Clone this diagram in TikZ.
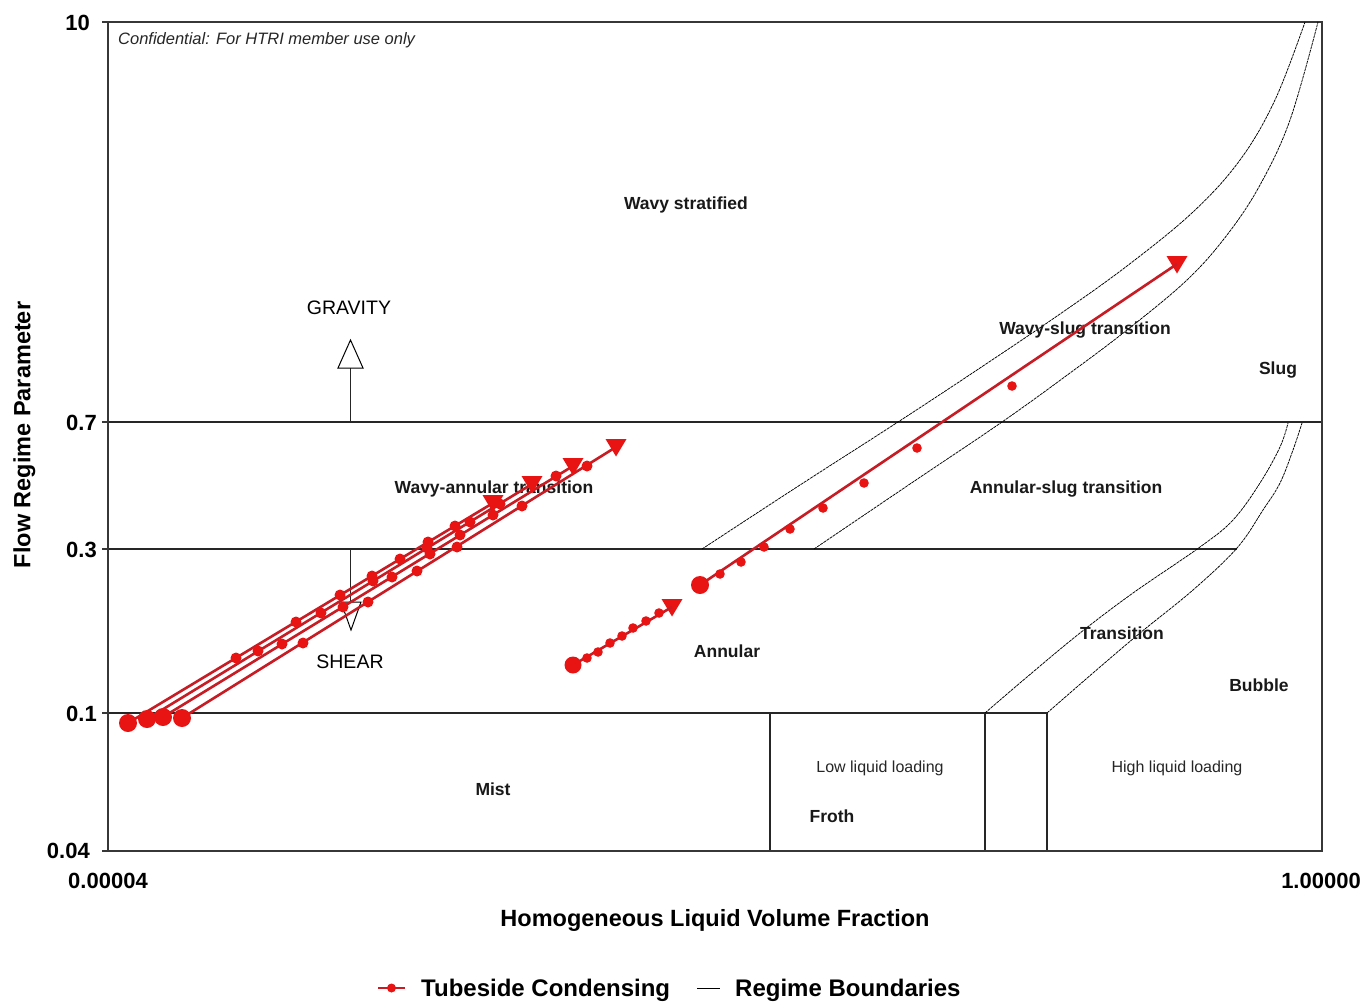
\documentclass[tikz,border=0pt]{standalone}
\usepackage{fontspec}
\setmainfont{Liberation Sans}
\definecolor{lnred}{RGB}{200,28,36}
\definecolor{mkred}{RGB}{232,20,20}
\definecolor{frame}{RGB}{55,55,55}
\begin{document}
\begin{tikzpicture}[x=1pt,y=-1pt,
  frm/.style={draw=frame,line width=1.4pt},
  bnd/.style={draw=black!85,line width=1.1pt},
  crv/.style={draw=black,line width=0.75pt,dash pattern=on 3pt off 0.8pt},
  lbl/.style={font=\fontsize{17.5}{20}\selectfont\bfseries,text=black!90,inner sep=0pt,anchor=base},
  sml/.style={font=\fontsize{16}{18}\selectfont,text=black!85,inner sep=0pt,anchor=base},
  big/.style={font=\fontsize{19.5}{22}\selectfont,text=black,inner sep=0pt,anchor=base},
  ax/.style={font=\fontsize{22}{24}\selectfont\bfseries,inner sep=0pt},
  ttl/.style={font=\fontsize{23.5}{26}\selectfont\bfseries,inner sep=0pt},
  ser/.style={draw=lnred,line width=2.6pt},
  opentri/.style={draw=black,line width=1pt,fill=white,line join=miter},
]
\fill[white] (0,0) rectangle (1369,1002);
\useasboundingbox (0,0) rectangle (1369,1002);

% regime boundary lines
\draw[bnd] (108,422) -- (1322,422);
\draw[bnd] (108,549) -- (1237,549);
\draw[bnd] (108,713) -- (1047,713);
\draw[bnd] (770,713) -- (770,851);
\draw[bnd] (985,713) -- (985,851);
\draw[bnd] (1047,713) -- (1047,851);

% frame and ticks
\draw[frm] (108,22) rectangle (1322,851);
\foreach \yy in {22,422,549,713,851} \draw[frm] (102,\yy) -- (108,\yy);

% curved boundaries
\draw[crv] plot[smooth,tension=0.6] coordinates {(702,549) (800,485) (898,422) (980,368) (1060,314) (1127,266) (1193,212) (1240,160) (1275,100) (1305,22)};
\draw[crv] plot[smooth,tension=0.6] coordinates {(814,549) (910,484) (1002,422) (1070,373) (1127,330) (1187,280) (1227,235) (1260,185) (1290,120) (1318,22)};
\draw[crv] plot[smooth,tension=0.6] coordinates {(985,713) (1027,677) (1080,633) (1133,593) (1200,547) (1233,520) (1260,483) (1280,447) (1288,423)};
\draw[crv] plot[smooth,tension=0.6] coordinates {(1047,713) (1093,673) (1140,633) (1193,590) (1237,548) (1263,510) (1280,483) (1293,450) (1302,423)};

% gravity / shear arrows
\draw[bnd] (350.5,422) -- (350.5,368);
\draw[opentri] (338,368) -- (363,368) -- (350.5,340) -- cycle;
\draw[bnd] (350.5,549) -- (350.5,602);
\draw[opentri] (341,602) -- (361,602) -- (351,630) -- cycle;

% axis labels
\node[ax,anchor=base east] (y10) at (90,30) {10};
\node[ax,anchor=base east] (y07) at (97,430) {0.7};
\node[ax,anchor=base east] (y03) at (97,557) {0.3};
\node[ax,anchor=base east] (y01) at (97,721) {0.1};
\node[ax,anchor=base east] (y004) at (90,858) {0.04};
\node[ax,anchor=base] (x0) at (108,888) {0.00004};
\node[ax,anchor=base] (x1) at (1321,888) {1.00000};
\node[ttl,anchor=base] (xt) at (715,926) {Homogeneous Liquid Volume Fraction};
\node[ttl,anchor=base,rotate=90] (yt) at (30.5,435) {Flow Regime Parameter};

% region labels
\node[font=\fontsize{16.5}{18}\selectfont\itshape,text=black!85,inner sep=0pt,anchor=base west] (conf) at (118,44) {Confidential: For HTRI member use only};
\node[lbl] (ws) at (686,209) {Wavy stratified};
\node[big] (grav) at (349,314) {GRAVITY};
\node[lbl] (wst) at (1085,334) {Wavy-slug transition};
\node[lbl] (slug) at (1278,374) {Slug};
\node[lbl] (wat) at (494,493) {Wavy-annular transition};
\node[lbl] (ast) at (1066,493) {Annular-slug transition};
\node[lbl] (tr) at (1122,639) {Transition};
\node[lbl] (ann) at (727,657) {Annular};
\node[big] (shear) at (350,668) {SHEAR};
\node[lbl] (bub) at (1259,691) {Bubble};
\node[lbl] (mist) at (493,795) {Mist};
\node[sml] (lll) at (880,772) {Low liquid loading};
\node[lbl] (froth) at (832,822) {Froth};
\node[sml] (hll) at (1177,772) {High liquid loading};

% data series: left cluster
\draw[ser] (128,723) -- (493,503);
\draw[ser] (147,719) -- (532,484);
\draw[ser] (163,717) -- (573,466);
\draw[ser] (182,718) -- (616,447);
\foreach \p in {(236,658),(296,622),(340,595),(372,576),(400,559),(428,542),(455,526),
                (258,651),(321,613),(373,581),(427,548),(470,522),(500,504),
                (282,644),(343,607),(392,577),(430,554),(460,535),(493,515),(556,476),
                (303,643),(368,602),(417,571),(457,547),(522,506),(587,466)}
  \fill[mkred] \p circle (5.5pt);
\foreach \p in {(128,723),(147,719),(163,717),(182,718)}
  \fill[mkred] \p circle (9pt);
\foreach \p in {(493,503),(532,484),(573,466),(616,447),(672,607),(1177,264)}
  \fill[mkred] \p ++(-10.5,-8) -- ++(21,0) -- ++(-10.5,17.5) -- cycle;

% middle segment
\draw[ser] (573,665) -- (672,607);
\foreach \p in {(587,658),(598,652),(610,643),(622,636),(633,628),(646,621),(659,613)}
  \fill[mkred] \p circle (4.8pt);
\fill[mkred] (573,665) circle (8.5pt);

% right line
\draw[ser] (700,585) -- (1177,264);
\foreach \p in {(720,574),(741,562),(764,547),(790,529),(823,508),(864,483),(917,448),(1012,386)}
  \fill[mkred] \p circle (4.8pt);
\fill[mkred] (700,585) circle (9pt);

% legend
\draw[ser] (378,988) -- (405,988);
\fill[mkred] (391.5,988) circle (4.5pt);
\node[ttl,font=\fontsize{24}{26}\selectfont\bfseries,anchor=base west] (leg1) at (421,996) {Tubeside Condensing};
\draw[line width=1pt] (697,988) -- (720,988);
\node[ttl,font=\fontsize{24}{26}\selectfont\bfseries,anchor=base west] (leg2) at (735,996) {Regime Boundaries};
\end{tikzpicture}
\end{document}
